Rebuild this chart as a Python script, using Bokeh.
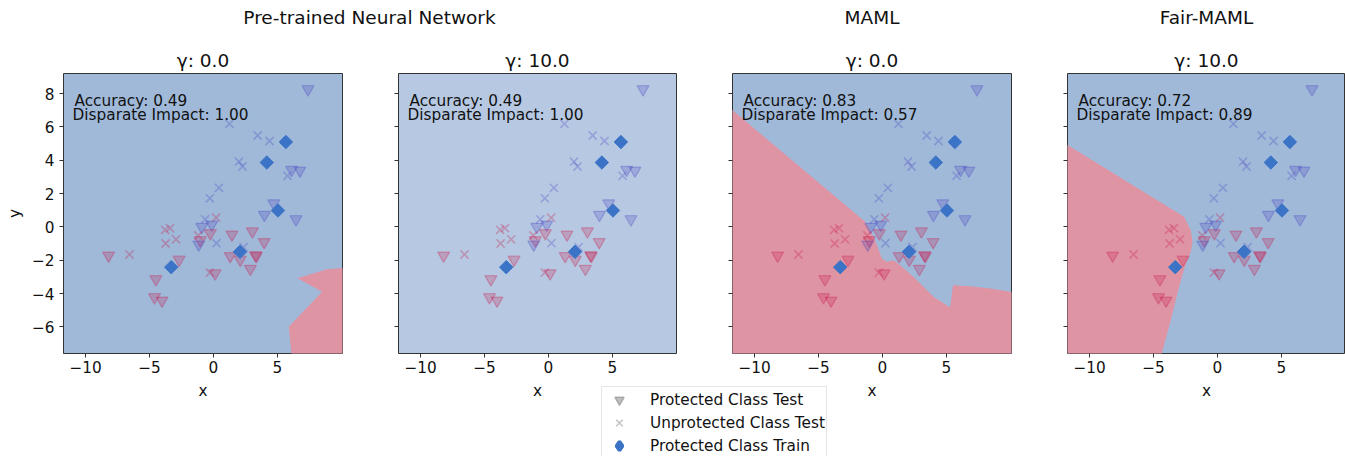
import numpy as np
from bokeh.plotting import figure
from bokeh.models import (FixedTicker, Div, Legend, LegendItem, Range1d,
                          ColumnDataSource, Label)
from bokeh.layouts import column, row
from bokeh.embed import file_html
from bokeh.resources import INLINE

# ---------------- data ----------------
group_titles = ["Pre-trained Neural Network", "MAML", "Fair-MAML"]
panel_titles = ["γ: 0.0", "γ: 10.0", "γ: 0.0", "γ: 10.0"]
accuracy = ["0.49", "0.49", "0.83", "0.72"]
disparate_impact = ["1.00", "1.00", "0.57", "0.89"]

x_ticks = [-10, -5, 0, 5]
y_ticks = [-6, -4, -2, 0, 2, 4, 6, 8]

# protected class, test (triangles); class 1 = blue, 0 = red
prot_test_x = [7.40, -8.20, -4.50, -4.61, -4.02, -2.69, -0.91, -0.13, -1.03, -1.15,
               -0.24, 0.13, 1.45, 3.05, 3.97, 3.99, 4.72, 6.46, 6.12, 6.77,
               1.31, 2.10, 3.36, 3.30, 2.89]
prot_test_y = [8.26, -1.72, -3.14, -4.22, -4.42, -1.97, 0.00, 0.14, -0.80, -1.06,
               -0.38, -2.79, -0.46, -0.27, -0.91, 0.72, 1.41, 0.46, 3.42, 3.38,
               -1.75, -1.97, -1.75, -1.70, -2.52]
prot_test_cls = [1, 0, 0, 0, 0, 0, 1, 1, 0, 1,
                 0, 0, 0, 0, 0, 1, 1, 1, 1, 1,
                 0, 0, 0, 0, 0]

# unprotected class, test (x markers)
unprot_test_x = [-6.57, -3.78, -3.40, -3.74, -2.92, -1.18, 0.21, -0.64, 0.24, -0.28,
                 0.43, 1.25, 2.00, 2.28, 3.46, 4.39, 5.80, 2.36, -0.28]
unprot_test_y = [-1.66, -0.18, -0.08, -1.00, -0.75, -0.52, 0.55, 0.45, -0.98, 1.71,
                 2.34, 6.18, 3.91, 3.62, 5.48, 5.15, 3.06, -1.22, -2.75]
unprot_test_cls = [0, 0, 0, 0, 0, 0, 0, 1, 1, 1,
                   1, 1, 1, 1, 1, 1, 1, 1, 0]

# protected class, train (diamonds)
train_x = [5.67, 4.18, 5.05, 2.08, -3.30]
train_y = [5.09, 3.86, 0.98, -1.50, -2.42]

# decision region predicted as class 0 (red), one polygon per panel
red_region_x = [
    [10.5, 8.9, 6.57, 8.5, 5.9, 6.15, 10.5],
    [],
    [-12.0, -1.35, -0.82, -0.43, -0.04, 0.35, 0.87, 1.39, 2.43, 4.0, 5.30, 5.52,
     6.87, 8.43, 10.5, 10.5, -12.0],
    [-12.0, -2.61, -2.42, -2.08, -1.95, -2.08, -2.47, -3.0, -3.65, -4.5, -12.0],
]
red_region_y = [
    [-2.45, -2.54, -3.08, -3.9, -6.0, -8.0, -8.0],
    [],
    [7.17, 0.30, -0.40, -1.10, -1.90, -2.10, -2.0, -2.3, -3.0, -4.2, -4.84, -3.5,
     -3.56, -3.70, -3.95, -8.0, -8.0],
    [5.03, 0.60, 0.30, -0.20, -0.90, -1.50, -2.2, -3.6, -5.6, -8.0, -8.0],
]

legend_labels = ["Protected Class Test", "Unprotected Class Test", "Protected Class Train"]

# ---------------- style ----------------
FONT = "DejaVu Sans"
BLUE_BG = ["#a0b9d9", "#b7c9e2", "#a0b9d9", "#a0b9d9"]
RED_BG = "#df94a4"
RED = "#c81a4c"
BLUE = "#4a44c0"
TRAIN = "#3b73c6"
TXT = "#111111"
SMALL = "15.3px"
BIG = "18.5px"

XR = [(-11.73, 10.1), (-11.73, 10.02), (-11.73, 10.1), (-11.73, 10.02)]
FW = [279, 278, 279, 278]
MBL = [63, 55, 55, 55]
MBR = [1, 1, 1, 0]


def cols(cls):
    return [BLUE if c == 1 else RED for c in cls]


def minus(t):
    return str(t).replace("-", "\u2212")


figs = []
for i in range(4):
    p = figure(frame_width=FW[i], frame_height=280,
               x_range=Range1d(*XR[i]), y_range=Range1d(-7.6, 9.2),
               output_backend="svg", toolbar_location=None,
               min_border_left=MBL[i], min_border_right=MBR[i],
               min_border_top=35, min_border_bottom=50,
               title=panel_titles[i], margin=0)
    p.title.align = "center"
    p.title.text_font = FONT
    p.title.text_font_size = BIG
    p.title.text_font_style = "normal"
    p.title.text_color = TXT
    p.title.standoff = 6
    p.background_fill_color = BLUE_BG[i]
    p.border_fill_color = "white"
    p.outline_line_color = "#333333"
    p.outline_line_width = 1
    p.grid.visible = False

    for ax in (p.xaxis[0], p.yaxis[0]):
        ax.axis_line_color = None
        ax.major_tick_line_color = "#333333"
        ax.major_tick_out = 4
        ax.major_tick_in = 0
        ax.minor_tick_line_color = None
        ax.major_label_text_font = FONT
        ax.major_label_text_font_size = SMALL
        ax.major_label_text_color = TXT
        ax.axis_label_text_font = FONT
        ax.axis_label_text_font_size = SMALL
        ax.axis_label_text_font_style = "normal"
        ax.axis_label_text_color = TXT
    p.xaxis.ticker = FixedTicker(ticks=x_ticks)
    p.yaxis.ticker = FixedTicker(ticks=y_ticks)
    p.xaxis.major_label_overrides = {t: minus(t) for t in x_ticks}
    p.xaxis.major_label_standoff = 3
    p.xaxis.axis_label = "x"
    p.xaxis.axis_label_standoff = 6
    if i == 0:
        p.yaxis.major_label_overrides = {t: minus(t) for t in y_ticks}
        p.yaxis.major_label_standoff = 5
        p.yaxis.axis_label = "y"
        p.yaxis.axis_label_standoff = 5
    else:
        p.yaxis.major_label_overrides = {t: "" for t in y_ticks}

    if red_region_x[i]:
        p.patch(red_region_x[i], red_region_y[i], fill_color=RED_BG,
                fill_alpha=1.0, line_color=None)

    src_t = ColumnDataSource(dict(x=prot_test_x, y=prot_test_y, c=cols(prot_test_cls)))
    p.scatter("x", "y", source=src_t, marker="inverted_triangle", size=12,
              fill_color="c", line_color="c", fill_alpha=0.24, line_alpha=0.3,
              line_width=1.3)
    src_u = ColumnDataSource(dict(x=unprot_test_x, y=unprot_test_y, c=cols(unprot_test_cls)))
    p.scatter("x", "y", source=src_u, marker="x", size=11.5,
              line_color="c", line_alpha=0.3, line_width=1.6)
    src_tr = ColumnDataSource(dict(x=train_x, y=train_y))
    p.scatter("x", "y", source=src_tr, marker="square", angle=np.pi / 4, size=9.5,
              fill_color=TRAIN, line_color=TRAIN, line_width=1)

    p.add_layout(Label(x=-10.87, y=7.56, text=f"Accuracy: {accuracy[i]}",
                       text_font=FONT, text_font_size=SMALL, text_color=TXT,
                       text_baseline="middle", text_align="left"))
    p.add_layout(Label(x=-11.02, y=6.72, text=f"Disparate Impact: {disparate_impact[i]}",
                       text_font=FONT, text_font_size=SMALL, text_color=TXT,
                       text_baseline="middle", text_align="left"))
    figs.append(p)

# ---------------- header (group titles) ----------------
centers = [369.5, 872.0, 1206.5]
spans = "".join(
    f'<span style="position:absolute;left:{c}px;top:9px;transform:translateX(-50%);'
    f'white-space:nowrap;">{t}</span>'
    for c, t in zip(centers, group_titles))
header = Div(text=(f'<div style="position:relative;width:1345px;height:38px;'
                   f"font-family:'DejaVu Sans';font-size:{BIG};line-height:18px;color:{TXT};\">"
                   f'{spans}</div>'),
             width=1345, height=38, margin=0)

# ---------------- legend ----------------
lf = figure(frame_width=240, frame_height=70, x_range=Range1d(0, 1), y_range=Range1d(0, 1),
            output_backend="svg", toolbar_location=None, min_border=0,
            x_axis_type=None, y_axis_type=None, margin=(-17, 0, 0, 601))
lf.outline_line_color = None
lf.background_fill_alpha = 0
lf.border_fill_alpha = 0
nan = [float("nan")]
r1 = lf.scatter(nan, nan, marker="inverted_triangle", fill_color="#7f7f7f",
                line_color="#7f7f7f", fill_alpha=0.5, line_alpha=0.55, line_width=1.5)
r2 = lf.scatter(nan, nan, marker="x", line_color="#7f7f7f", line_alpha=0.45,
                line_width=1.6)
r3 = lf.scatter(nan, nan, marker="diamond", fill_color=TRAIN, line_color=TRAIN,
                line_width=3.5)
leg = Legend(items=[LegendItem(label=l, renderers=[r]) for l, r in
                    zip(legend_labels, [r1, r2, r3])],
             location="top_left", margin=0, padding=1, spacing=0,
             glyph_width=32, glyph_height=23, label_height=23, label_standoff=15,
             label_text_font=FONT, label_text_font_size=SMALL, label_text_color=TXT,
             border_line_color="#cccccc", border_line_width=1,
             background_fill_color="white", background_fill_alpha=0.9)
lf.add_layout(leg)

layout = column(header, row(*figs, spacing=0), lf, spacing=0)
open("out.html", "w").write(file_html(layout, INLINE))
